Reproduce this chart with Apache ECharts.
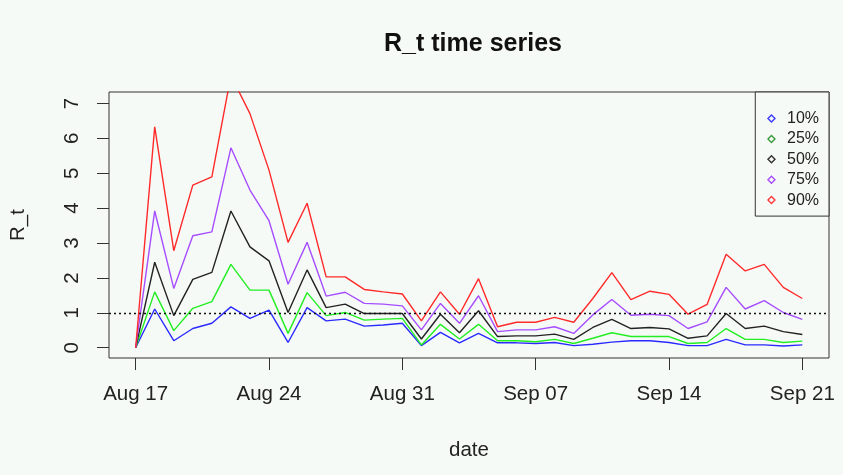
<!DOCTYPE html>
<html>
<head>
<meta charset="utf-8">
<script src="https://cdn.jsdelivr.net/npm/echarts@6/dist/echarts.min.js"></script>
<style>
html,body{margin:0;padding:0;background:#f6faf7;}
#chart{width:843px;height:475px;}
</style>
</head>
<body>
<div id="chart"></div>
<script>
// day index 0 = Aug 17 ... 35 = Sep 21
var tickDays = [0, 7, 14, 21, 28, 35];
var tickLabels = ["Aug 17", "Aug 24", "Aug 31", "Sep 07", "Sep 14", "Sep 21"];
var yTicks = [0, 1, 2, 3, 4, 5, 6, 7];

var q10 = [0, 1.11, 0.20, 0.55, 0.70, 1.17, 0.84, 1.08, 0.15, 1.15, 0.77, 0.82, 0.62, 0.65, 0.70, 0.06, 0.44, 0.14, 0.41, 0.14, 0.14, 0.12, 0.15, 0.06, 0.10, 0.16, 0.20, 0.20, 0.15, 0.06, 0.06, 0.24, 0.08, 0.08, 0.05, 0.08];
var q25 = [0, 1.60, 0.49, 1.13, 1.32, 2.39, 1.65, 1.65, 0.41, 1.58, 0.92, 1.01, 0.79, 0.82, 0.84, 0.08, 0.67, 0.25, 0.67, 0.20, 0.20, 0.17, 0.24, 0.12, 0.27, 0.43, 0.32, 0.32, 0.32, 0.12, 0.15, 0.55, 0.24, 0.24, 0.15, 0.19];
var q50 = [0, 2.45, 0.92, 1.96, 2.16, 3.92, 2.89, 2.49, 1.01, 2.23, 1.15, 1.25, 0.98, 0.98, 0.98, 0.25, 0.96, 0.43, 1.06, 0.32, 0.34, 0.34, 0.39, 0.24, 0.58, 0.81, 0.55, 0.58, 0.54, 0.27, 0.34, 0.98, 0.55, 0.62, 0.46, 0.38];
var q75 = [0, 3.92, 1.70, 3.21, 3.32, 5.73, 4.52, 3.64, 1.82, 3.02, 1.48, 1.59, 1.27, 1.25, 1.20, 0.51, 1.27, 0.70, 1.49, 0.46, 0.51, 0.51, 0.60, 0.41, 0.94, 1.38, 0.93, 0.96, 0.92, 0.55, 0.74, 1.73, 1.11, 1.35, 1.01, 0.81];
var q90 = [0, 6.33, 2.78, 4.66, 4.90, 7.80, 6.71, 5.09, 3.02, 4.14, 2.03, 2.03, 1.67, 1.60, 1.54, 0.77, 1.60, 0.96, 1.98, 0.60, 0.73, 0.73, 0.87, 0.73, 1.41, 2.15, 1.38, 1.62, 1.53, 0.96, 1.24, 2.68, 2.20, 2.39, 1.73, 1.41];

var seriesNames = ["10%", "25%", "50%", "75%", "90%"];
var seriesData = [q10, q25, q50, q75, q90];
var lineColors = ["#2a2aff", "#22ee22", "#222222", "#a64dff", "#ff2a2a"];
var legendColors = ["#3a3aff", "#3a9a3a", "#333333", "#a64dff", "#ff3a3a"];
var refLine = 1;

var FONT = "'Liberation Sans', Arial, sans-serif";

function toPoints(arr) {
  return arr.map(function (v, i) { return [i, v]; });
}

var series = seriesNames.map(function (name, k) {
  return {
    name: name,
    type: 'line',
    data: toPoints(seriesData[k]),
    showSymbol: false,
    symbol: 'none',
    animation: false,
    itemStyle: { color: lineColors[k] },
    lineStyle: { color: lineColors[k], width: 1.4 },
    z: 3
  };
});
series.push({
  name: 'ref',
  type: 'line',
  data: [],
  silent: true,
  markLine: {
    silent: true,
    symbol: 'none',
    label: { show: false },
    lineStyle: { color: '#111', type: [2, 3], width: 1.3 },
    data: [{ yAxis: refLine }]
  }
});

var chart = echarts.init(document.getElementById('chart'), null, { renderer: 'canvas' });
chart.setOption({
  backgroundColor: '#f6faf7',
  animation: false,
  textStyle: { fontFamily: FONT },
  title: {
    text: 'R_t time series',
    left: 468,
    textAlign: 'center',
    top: 27,
    textStyle: { fontFamily: FONT, fontSize: 25, fontWeight: 'bold', color: '#111' }
  },
  legend: {
    orient: 'vertical',
    right: 14,
    top: 92,
    icon: 'diamond',
    itemWidth: 7,
    itemHeight: 7,
    itemGap: 4.4,
    padding: [18.5, 10, 8, 12],
    borderColor: '#333',
    borderWidth: 1,
    backgroundColor: '#f6faf7',
    data: seriesNames.map(function (n, k) {
      return { name: n, itemStyle: { color: 'transparent', borderColor: legendColors[k], borderWidth: 1.4 } };
    }),
    textStyle: { fontFamily: FONT, fontSize: 16, color: '#222', padding: [0, 0, 0, 7] }
  },
  grid: {
    left: 109, right: 14, top: 92, bottom: 117,
    show: true, borderColor: '#333', borderWidth: 1, backgroundColor: 'transparent'
  },
  xAxis: {
    type: 'value',
    min: -1.4, max: 36.4,
    name: 'date',
    nameLocation: 'middle',
    nameGap: 82,
    nameTextStyle: { fontFamily: FONT, fontSize: 20.5, color: '#222' },
    axisLine: { show: false, onZero: false },
    splitLine: { show: false },
    axisTick: { show: true, length: 12, lineStyle: { color: '#333', width: 1 }, customValues: tickDays },
    axisLabel: {
      margin: 26, fontFamily: FONT, fontSize: 20.5, color: '#222',
      customValues: tickDays,
      formatter: function (v) { var i = tickDays.indexOf(Math.round(v)); return i >= 0 ? tickLabels[i] : ''; }
    }
  },
  yAxis: {
    type: 'value',
    min: -0.295, max: 7.33,
    name: 'R_t',
    nameLocation: 'middle',
    nameGap: 80,
    nameRotate: 90,
    nameTextStyle: { fontFamily: FONT, fontSize: 20.5, color: '#222' },
    axisLine: { show: false, onZero: false },
    splitLine: { show: false },
    axisTick: { show: true, length: 12, lineStyle: { color: '#333', width: 1 }, customValues: yTicks },
    axisLabel: {
      margin: 26, rotate: 90, fontFamily: FONT, fontSize: 20.5, color: '#222',
      customValues: yTicks,
      formatter: function (v) { return String(Math.round(v)); }
    }
  },
  series: series
});
</script>
</body>
</html>
